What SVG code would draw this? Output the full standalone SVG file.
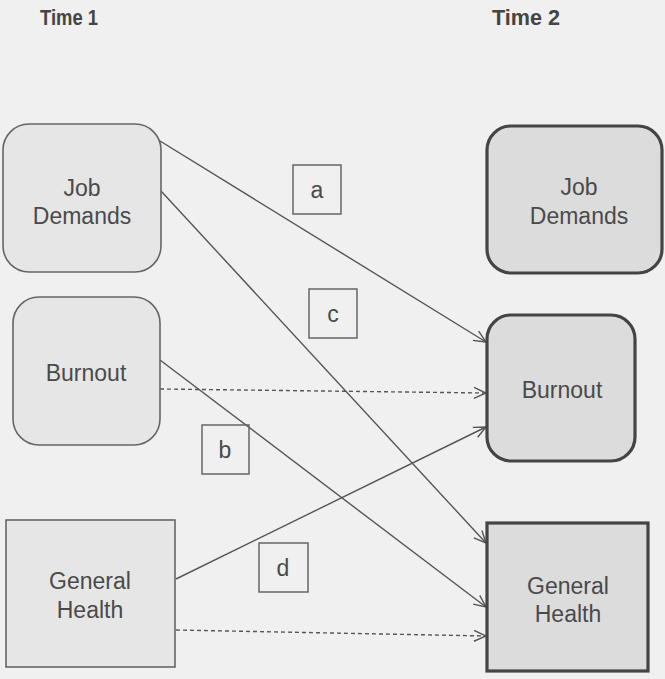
<svg xmlns="http://www.w3.org/2000/svg" width="665" height="679" viewBox="0 0 665 679">
  <style>
    .title { font-family: "Liberation Sans", Arial, sans-serif; font-size: 22px; font-weight: bold; fill: #444444; }
    .lbl { font-family: "Liberation Sans", Arial, sans-serif; font-size: 23px; fill: #4a4a4a; text-anchor: middle; }
    .t1 { fill: #e6e6e6; stroke: #666666; stroke-width: 1.6; }
    .t2 { fill: #dcdcdc; stroke: #444444; stroke-width: 3.2; }
    .key rect { fill: none; stroke: #666666; stroke-width: 1.5; }
    .edge { fill: none; stroke: #555555; stroke-width: 1.4; }
    .dash { stroke-dasharray: 4 3; }
  </style>
  <defs>
    <marker id="arrow" viewBox="0 0 14 14" refX="13" refY="7" markerWidth="14" markerHeight="14" markerUnits="userSpaceOnUse" orient="auto">
      <path d="M1,1.5 L13,7 L1,12.5" fill="none" stroke="#555555" stroke-width="1.4"/>
    </marker>
  </defs>

  <rect width="665" height="679" fill="#f0f0f0"/>

  <text class="title" x="40" y="25" textLength="58" lengthAdjust="spacingAndGlyphs">Time 1</text>
  <text class="title" x="492" y="25" textLength="68" lengthAdjust="spacingAndGlyphs">Time 2</text>

  <!-- connectors -->
  <g id="connectors">
    <line class="edge" x1="160" y1="141" x2="486" y2="342" marker-end="url(#arrow)"/>
    <line class="edge" x1="161" y1="191" x2="486" y2="543" marker-end="url(#arrow)"/>
    <line class="edge" x1="160" y1="360" x2="486" y2="607" marker-end="url(#arrow)"/>
    <line class="edge" x1="176" y1="579" x2="486" y2="427" marker-end="url(#arrow)"/>
    <line class="edge dash" x1="160" y1="389" x2="486" y2="393" marker-end="url(#arrow)"/>
    <line class="edge dash" x1="176" y1="630" x2="486" y2="636" marker-end="url(#arrow)"/>
  </g>

  <!-- Time 1 nodes -->
  <g id="jd1">
    <rect class="t1" x="3" y="124" width="158" height="148" rx="26"/>
    <text class="lbl" x="82" y="196">Job</text>
    <text class="lbl" x="82" y="224">Demands</text>
  </g>
  <g id="bo1">
    <rect class="t1" x="13" y="297" width="147" height="148" rx="26"/>
    <text class="lbl" x="86" y="381">Burnout</text>
  </g>
  <g id="gh1">
    <rect class="t1" x="6" y="520" width="169" height="147"/>
    <text class="lbl" x="90" y="589">General</text>
    <text class="lbl" x="90" y="618">Health</text>
  </g>

  <!-- Time 2 nodes -->
  <g id="jd2">
    <rect class="t2" x="487" y="126" width="175" height="147" rx="24"/>
    <text class="lbl" x="579" y="195">Job</text>
    <text class="lbl" x="579" y="224">Demands</text>
  </g>
  <g id="bo2">
    <rect class="t2" x="487" y="315" width="148" height="146" rx="24"/>
    <text class="lbl" x="562" y="398">Burnout</text>
  </g>
  <g id="gh2">
    <rect class="t2" x="487" y="523" width="161" height="148"/>
    <text class="lbl" x="568" y="594">General</text>
    <text class="lbl" x="568" y="622">Health</text>
  </g>

  <!-- path labels -->
  <g id="key-a" class="key">
    <rect x="293" y="165" width="48" height="49"/>
    <text class="lbl" x="317" y="198">a</text>
  </g>
  <g id="key-c" class="key">
    <rect x="309" y="289" width="48" height="49"/>
    <text class="lbl" x="333" y="322">c</text>
  </g>
  <g id="key-b" class="key">
    <rect x="202" y="425" width="47" height="49"/>
    <text class="lbl" x="225" y="458">b</text>
  </g>
  <g id="key-d" class="key">
    <rect x="259" y="543" width="49" height="49"/>
    <text class="lbl" x="283" y="576">d</text>
  </g>
</svg>
